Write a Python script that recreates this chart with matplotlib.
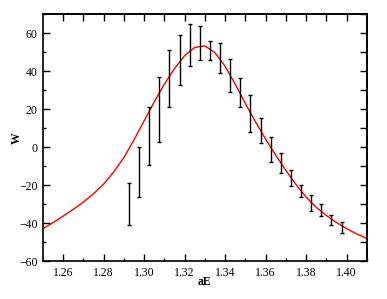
import numpy as np
import matplotlib
matplotlib.use("Agg")
import matplotlib.pyplot as plt

# data points with error bars
x_pts = [1.2925, 1.2975, 1.3025, 1.3075, 1.3125, 1.3175, 1.3225, 1.3275,
         1.3325, 1.3375, 1.3425, 1.3475, 1.3525, 1.3575, 1.3625, 1.3675,
         1.3725, 1.3775, 1.3825, 1.3875, 1.3925, 1.3975]
w_pts = [-30.0, -13.2, 5.8, 20.0, 36.0, 46.0, 54.0, 55.0, 51.0, 47.0, 37.8,
         28.8, 17.7, 9.0, -1.0, -8.2, -16.1, -23.2, -29.2, -33.2, -38.2, -42.2]
w_err = [11.0, 13.2, 15.2, 17.0, 15.0, 13.0, 11.0, 9.0, 5.0, 8.0, 8.8,
         7.8, 9.7, 6.6, 6.6, 5.2, 4.4, 3.2, 4.3, 3.2, 2.6, 2.7]

# fitted curve
x_fit = [1.250, 1.255, 1.260, 1.265, 1.270, 1.275, 1.280, 1.285, 1.290,
         1.295, 1.300, 1.305, 1.310, 1.315, 1.320, 1.325, 1.330, 1.335,
         1.340, 1.345, 1.350, 1.355, 1.360, 1.365, 1.370, 1.375, 1.380,
         1.385, 1.390, 1.395, 1.400, 1.405, 1.410]
w_fit = [-42.8, -39.6, -36.2, -32.6, -28.8, -24.4, -19.3, -12.9, -5.3,
         4.0, 14.0, 24.0, 33.3, 41.5, 48.3, 52.6, 53.4, 49.8,
         42.6, 33.2, 23.0, 13.4, 4.3, -4.2, -12.2, -19.6, -26.2,
         -31.6, -35.9, -39.6, -42.8, -45.6, -48.0]

plt.rcParams['font.family'] = ['Liberation Serif', 'DejaVu Serif']

fig = plt.figure(figsize=(3.87, 2.99), dpi=100)
ax = fig.add_axes([0.111, 0.126, 0.837, 0.826])

ax.plot(x_fit, w_fit, color='red', lw=1.0)
ax.errorbar(x_pts, w_pts, yerr=w_err, fmt='none', ecolor='black',
            elinewidth=1.0, capsize=1.2, capthick=1.0)

ax.set_xlim(1.25, 1.41)
ax.set_ylim(-60, 70)
ax.set_xticks(np.arange(1.26, 1.405, 0.02))
ax.set_xticks(np.arange(1.25, 1.415, 0.01), minor=True)
ax.set_yticks(np.arange(-60, 61, 20))
ax.set_yticks(np.arange(-60, 71, 10), minor=True)
ax.set_xticklabels(['%.2f' % v for v in np.arange(1.26, 1.405, 0.02)])
ax.tick_params(which='major', direction='in', length=5, width=1, labelsize=8.5, pad=4)
ax.tick_params(which='minor', direction='in', length=2.5, width=1)

# opposite side ticks, all same length
top = ax.secondary_xaxis('top')
top.set_xticks(np.arange(1.26, 1.405, 0.01))
top.tick_params(direction='in', length=5, width=1, labeltop=False)
right = ax.secondary_yaxis('right')
right.set_yticks(np.arange(-60, 71, 10))
right.tick_params(direction='in', length=5, width=1, labelright=False)

for s in list(ax.spines.values()) + [top.spines['top'], right.spines['right']]:
    s.set_linewidth(1.2)

ax.set_xlabel('aE', fontsize=8.5, fontweight='bold')
ax.set_ylabel('W', fontsize=8.5, fontweight='bold')
ax.xaxis.set_label_coords(0.5, -0.06)
ax.yaxis.set_label_coords(-0.062, 0.5)

fig.savefig('out.png', dpi=100)
